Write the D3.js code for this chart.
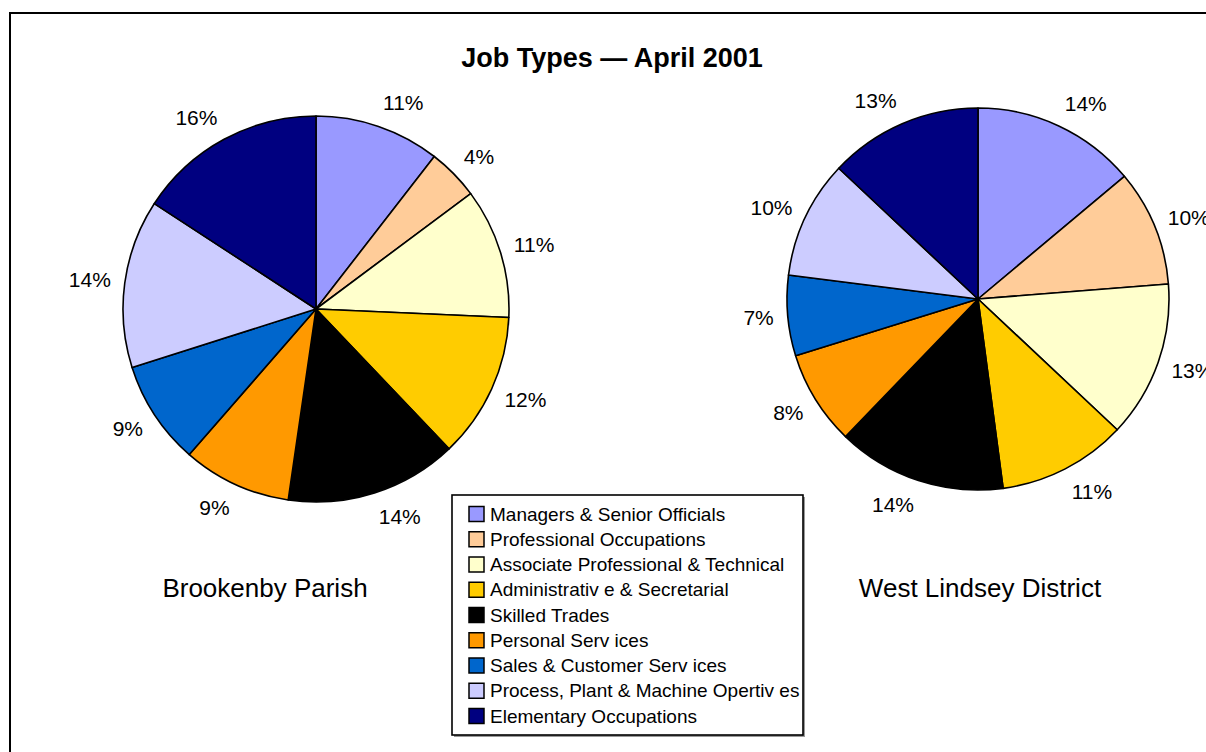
<!DOCTYPE html>
<html>
<head>
<meta charset="utf-8">
<script src="https://cdn.jsdelivr.net/npm/d3@7"></script>
<style>
  html, body { margin: 0; padding: 0; background: #fff; }
  svg { display: block; font-family: "Liberation Sans", Arial, sans-serif; }
</style>
</head>
<body>
<svg id="chart" width="1206" height="752"></svg>
<script>
const categories = [
  "Managers & Senior Officials",
  "Professional Occupations",
  "Associate Professional & Technical",
  "Administrativ e & Secretarial",
  "Skilled Trades",
  "Personal Serv ices",
  "Sales & Customer Serv ices",
  "Process, Plant & Machine Opertiv es",
  "Elementary  Occupations"
];
const colors = ["#9999FF", "#FFCC99", "#FFFFCC", "#FFCC00", "#000000", "#FF9900", "#0066CC", "#CCCCFF", "#000080"];
const brookenbyValues = [10.5, 4.3, 10.9, 12.2, 14.4, 9.1, 8.7, 14.1, 15.8];
const westLindseyValues = [13.9, 9.85, 13.25, 10.9, 14.3, 8.0, 6.8, 10.0, 13.0];
const brookenbyLabels = ["11%", "4%", "11%", "12%", "14%", "9%", "9%", "14%", "16%"];
const westLindseyLabels = ["14%", "10%", "13%", "11%", "14%", "8%", "7%", "10%", "13%"];
const title = "Job Types \u2014 April 2001";
const pieTitles = ["Brookenby Parish", "West Lindsey District"];

const svg = d3.select("#chart");

// outer frame
svg.append("rect").attr("x", 10).attr("y", 13).attr("width", 1240).attr("height", 800)
  .attr("fill", "none").attr("stroke", "#000").attr("stroke-width", 2);

svg.append("text").attr("x", 612).attr("y", 67).attr("text-anchor", "middle")
  .attr("font-size", 27).attr("font-weight", "bold").text(title);

const color = d3.scaleOrdinal().domain(categories).range(colors);

function drawPie(values, labels, cx, cy, r, name, nameX) {
  const data = categories.map((c, i) => ({ cat: c, value: values[i], label: labels[i] }));
  const pie = d3.pie().value(d => d.value).sort(null);
  const arcs = pie(data);
  const arc = d3.arc().innerRadius(0).outerRadius(r);
  const g = svg.append("g").attr("transform", `translate(${cx},${cy})`);
  g.selectAll("path").data(arcs).join("path")
    .attr("d", arc).attr("fill", d => color(d.data.cat))
    .attr("stroke", "#000").attr("stroke-width", 1.6).attr("stroke-linejoin", "round");
  const R = r + 14, halfH = 11;
  g.selectAll("text.lbl").data(arcs).join("text").attr("class", "lbl")
    .attr("text-anchor", "middle").attr("dominant-baseline", "central")
    .attr("font-size", 21).text(d => d.data.label)
    .each(function (d) {
      const a = (d.startAngle + d.endAngle) / 2;
      const s = Math.sin(a), c = Math.cos(a);
      const halfW = this.getComputedTextLength() / 2;
      const x = R * s + Math.sign(s) * halfW;
      const y = -R * c - c * halfH;
      d3.select(this).attr("transform", `translate(${x},${y})`);
    });
  svg.append("text").attr("x", nameX).attr("y", 597).attr("text-anchor", "middle")
    .attr("font-size", 26).text(name);
}

drawPie(brookenbyValues, brookenbyLabels, 316, 309, 193, pieTitles[0], 265);
drawPie(westLindseyValues, westLindseyLabels, 978, 299, 191, pieTitles[1], 980);

// legend
const lx = 452, ly = 495, lw = 351, lh = 240;
svg.append("rect").attr("x", lx + 2).attr("y", ly + 2).attr("width", lw).attr("height", lh)
  .attr("fill", "#999");
svg.append("rect").attr("x", lx).attr("y", ly).attr("width", lw).attr("height", lh)
  .attr("fill", "#fff").attr("stroke", "#000").attr("stroke-width", 1.6);
const rowY = d3.scalePoint().domain(categories).range([514, 716]);
const items = svg.append("g").selectAll("g").data(categories).join("g")
  .attr("transform", d => `translate(0,${rowY(d)})`);
items.append("rect").attr("x", 469).attr("y", -7.5).attr("width", 15).attr("height", 15)
  .attr("fill", d => color(d)).attr("stroke", "#000").attr("stroke-width", 1.5);
items.append("text").attr("x", 490).attr("y", 0).attr("dominant-baseline", "central")
  .attr("font-size", 19).text(d => d);
</script>
</body>
</html>
